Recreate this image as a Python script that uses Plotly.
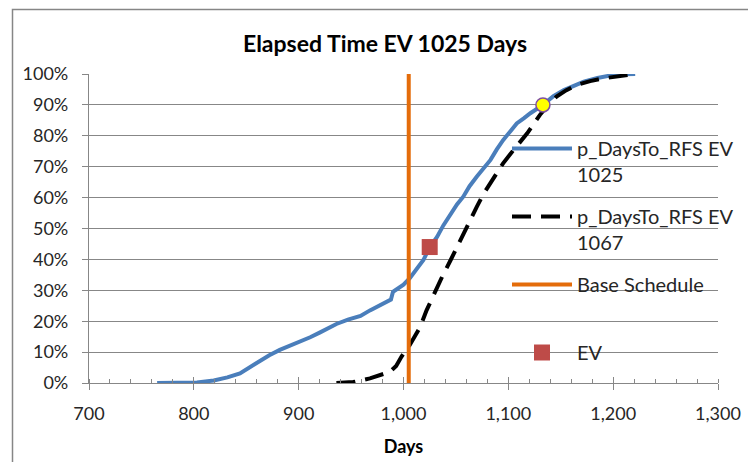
import plotly.graph_objects as go

# ---- data ----
ev1025_days = [765, 790, 803, 819, 832, 844, 853, 863, 872, 882, 892, 901, 911, 920, 928, 936,
               947, 959, 968, 978, 984, 988, 990, 995, 1000, 1006, 1012, 1019, 1025, 1032, 1038,
               1045, 1051, 1057, 1063, 1070, 1076, 1083, 1089, 1095, 1102, 1108, 1115, 1121, 1133,
               1143, 1153, 1162, 1172, 1185, 1197, 1210, 1221]
ev1025_prob = [0.000, 0.001, 0.002, 0.008, 0.018, 0.031, 0.050, 0.074, 0.090, 0.107, 0.120, 0.134,
               0.148, 0.163, 0.176, 0.191, 0.205, 0.217, 0.235, 0.252, 0.262, 0.270, 0.295, 0.308,
               0.318, 0.339, 0.365, 0.398, 0.440, 0.473, 0.510, 0.549, 0.578, 0.603, 0.637, 0.668,
               0.693, 0.722, 0.756, 0.786, 0.815, 0.840, 0.857, 0.873, 0.900, 0.928, 0.948, 0.962,
               0.975, 0.987, 0.995, 0.999, 1.000]

ev1067_days = [936, 952, 968, 987, 993, 998, 1006, 1016, 1022, 1029, 1037, 1045, 1051, 1057, 1063,
               1070, 1076, 1083, 1089, 1095, 1105, 1118, 1130, 1138, 1146, 1155, 1165, 1178, 1191,
               1205, 1221]
ev1067_prob = [0.000, 0.003, 0.015, 0.036, 0.055, 0.085, 0.123, 0.182, 0.235, 0.290, 0.345, 0.398,
               0.440, 0.484, 0.528, 0.571, 0.610, 0.646, 0.680, 0.711, 0.754, 0.808, 0.867, 0.900,
               0.927, 0.947, 0.964, 0.977, 0.986, 0.994, 1.000]

base_schedule_days = [1005, 1005]
base_schedule_prob = [0.0, 1.0]

ev_days = [1025]
ev_prob = [0.44]

p90_days = [1133]
p90_prob = [0.90]

x_major_ticks = [700, 800, 900, 1000, 1100, 1200, 1300]

names = ["p_DaysTo_RFS EV<br>1025", "p_DaysTo_RFS EV<br>1067", "Base Schedule", "EV"]
title_text = "Elapsed Time EV 1025 Days"
x_title = "Days"

# ---- figure ----
W, H = 748, 462
L, R, T, B = 89, 30, 74, 79
pw, ph = W - L - R, H - T - B

def px_x(p):
    return (p - L) / pw

def px_y(p):
    return (H - B - p) / ph

FONT = "Lato"
GRID = "#878787"

fig = go.Figure()
fig.add_trace(go.Scatter(x=ev1025_days, y=ev1025_prob, mode="lines", name=names[0],
                         line=dict(color="#4A7EBB", width=4), legend="legend"))
fig.add_trace(go.Scatter(x=ev1067_days, y=ev1067_prob, mode="lines", name=names[1],
                         line=dict(color="#000000", width=4, dash="19px,10px"), legend="legend2"))
fig.add_trace(go.Scatter(x=base_schedule_days, y=base_schedule_prob, mode="lines", name=names[2],
                         line=dict(color="#E46C0A", width=4), legend="legend3"))
fig.add_trace(go.Scatter(x=ev_days, y=ev_prob, mode="markers", name=names[3],
                         marker=dict(symbol="square", size=16, color="#BE4B48"), legend="legend4"))
fig.add_trace(go.Scatter(x=p90_days, y=p90_prob, mode="markers", showlegend=False,
                         marker=dict(symbol="circle", size=14, color="#FFFF00",
                                     line=dict(color="#7F4FA0", width=1.5))))
# empty trace so the overlay axis (upper half of the crossing major ticks) is drawn
fig.add_trace(go.Scatter(x=[], y=[], xaxis="x2", showlegend=False, hoverinfo="skip"))

def leg(ytop):
    return dict(x=px_x(507), y=px_y(ytop), xanchor="left", yanchor="top",
                bgcolor="rgba(0,0,0,0)", borderwidth=0, valign="top", itemwidth=60,
                font=dict(family=FONT, size=20, color="#262626"), tracegroupgap=0)

fig.update_layout(
    width=W, height=H,
    margin=dict(l=L, r=R, t=T, b=B, autoexpand=False),
    paper_bgcolor="white", plot_bgcolor="white",
    title=dict(text="<b>" + title_text + "</b>", xref="container", yref="container",
               x=385 / W, y=1 - 44 / H, xanchor="center", yanchor="middle",
               font=dict(family=FONT, size=23, color="#000000")),
    legend=leg(129), legend2=leg(197), legend3=leg(265), legend4=leg(333),
    xaxis=dict(range=[700, 1300], tickvals=x_major_ticks, tickformat=",d", automargin=False,
               showgrid=False, zeroline=False, showline=True, linecolor=GRID, linewidth=1.3,
               ticks="outside", ticklen=6, tickcolor=GRID, tickwidth=1.3,
               ticklabelstandoff=8,
               minor=dict(dtick=20, tick0=700, ticks="inside", ticklen=4, tickcolor=GRID,
                          tickwidth=1.3, showgrid=False),
               tickfont=dict(family=FONT, size=18, color="#262626"),
               title=dict(text="<b>" + x_title + "</b>", standoff=17,
                          font=dict(family=FONT, size=18, color="#000000"))),
    xaxis2=dict(overlaying="x", matches="x", anchor="y", side="bottom", automargin=False,
                tickvals=x_major_ticks, ticks="inside", ticklen=6, tickcolor=GRID,
                tickwidth=1.3, showticklabels=False, showline=False, showgrid=False,
                zeroline=False),
    yaxis=dict(range=[0, 1], dtick=0.1, tickformat=".0%", automargin=False,
               showgrid=True, gridcolor=GRID, gridwidth=1.3, zeroline=False,
               showline=True, linecolor=GRID, linewidth=1.3,
               ticks="outside", ticklen=6, tickcolor=GRID, tickwidth=1.3,
               ticklabelstandoff=10,
               tickfont=dict(family=FONT, size=18, color="#262626")),
    shapes=[dict(type="rect", xref="paper", yref="paper",
                 x0=px_x(12.5), x1=px_x(790), y0=px_y(500), y1=px_y(9.5),
                 line=dict(color="#868686", width=1.5), fillcolor="rgba(0,0,0,0)", layer="below")],
)

fig.write_html("out.html")
